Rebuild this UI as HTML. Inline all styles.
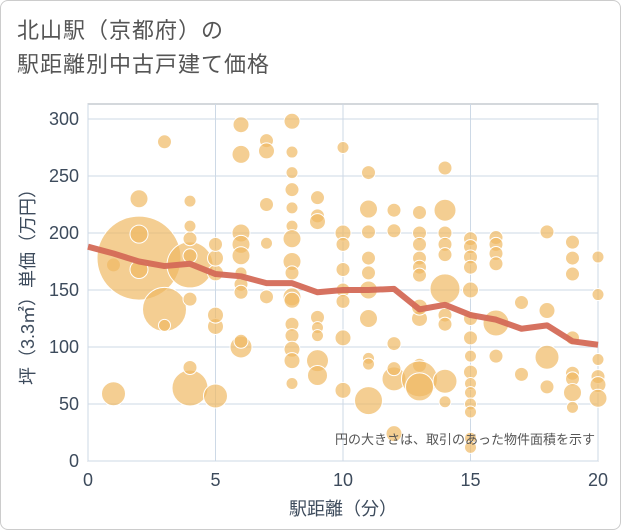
<!DOCTYPE html>
<html><head><meta charset="utf-8"><style>
body{margin:0;background:#fff;}
#wrap{position:relative;width:619px;height:528px;border:1px solid #ccc;border-radius:8px;background:#fff;font-family:"Liberation Sans","Noto Sans CJK JP",sans-serif;overflow:hidden}
#title{position:absolute;left:16px;top:13px;font-size:22px;line-height:34px;color:#555;letter-spacing:1px}
svg{position:absolute;left:0;top:0}
</style></head><body>
<div id="wrap">
<div id="title">北山駅（京都府）の<br>駅距離別中古戸建て価格</div>
<svg id="chart" width="621" height="530"></svg>
</div>
<script>
const xTicks=[0,5,10,15,20];
const yTicks=[0,50,100,150,200,250,300];
const lineX=[0,1,2,3,4,5,6,7,8,9,10,11,12,13,14,15,16,17,18,19,20];
const lineY=[188,182,175,171,173,164,162,156,156,148,150,150,151,133,137,128,124,116,119,105,102];
const bubbleX=[1,1,2,2,2,2,3,3,3,4,4,4,4,4,4,4,4,5,5,5,5,5,5,6,6,6,6,6,6,6,6,6,6,7,7,7,7,7,8,8,8,8,8,8,8,8,8,8,8,8,8,8,8,8,9,9,9,9,9,9,9,9,10,10,10,10,10,10,10,10,11,11,11,11,11,11,11,11,11,11,12,12,12,12,12,12,13,13,13,13,13,13,13,13,13,13,13,14,14,14,14,14,14,14,14,14,14,15,15,15,15,15,15,15,15,15,15,15,15,15,15,15,16,16,16,16,16,16,17,17,18,18,18,18,19,19,19,19,19,19,19,19,20,20,20,20,20,20];
const bubbleY=[59,172,178,230,199,168,280,133,119,172,64,82,142,180,195,206,228,57,118,128,165,178,190,295,269,200,190,180,155,148,100,105,165,281,272,225,191,144,298,271,253,238,222,206,195,175,165,144,141,120,110,98,88,68,231,215,210,126,117,110,88,75,275,200,190,168,150,140,108,62,253,221,201,178,165,150,125,90,85,53,220,202,103,72,81,24,218,200,190,178,170,163,125,135,84,72,65,257,220,200,190,181,151,128,120,70,52,195,188,179,170,150,125,108,92,78,68,60,50,43,20,12,196,190,182,173,121,92,139,76,201,132,91,65,192,178,164,108,77,72,60,47,179,146,89,74,67,55];
const bubbleR=[12,7,42,9,9,9,7,22,6,23,18,7,7,7,7,6,6,12,8,8,8,8,7,8,9,9,9,9,7,7,11,7,6,7,8,7,6,7,8,6,6,7,6,6,9,9,7,9,8,7,7,8,8,6,7,7,8,7,6,6,11,10,6,8,7,7,7,7,8,8,7,9,7,7,7,9,9,6,6,14,7,7,7,12,7,8,7,7,7,7,7,7,8,8,7,18,14,7,11,7,7,7,15,7,7,12,6,7,7,7,7,8,7,7,6,7,6,6,6,6,6,6,7,7,7,7,13,7,7,7,7,8,12,7,7,7,7,7,7,7,9,6,6,6,6,7,8,9];
const NS='http://www.w3.org/2000/svg';
const svg=document.getElementById('chart');
const L=87,R=597,T=103,B=460;
const xs=v=>L+(v-0)/20*(R-L);
const ys=v=>460-v*(460-118)/300;
function mk(t,a){const e=document.createElementNS(NS,t);for(const k in a)e.setAttribute(k,a[k]);svg.appendChild(e);return e;}
const bg=mk('rect',{x:L,y:T,width:R-L,height:B-T,fill:'#fff',stroke:'#aab0b8','stroke-width':1});


yTicks.forEach(v=>{const g=mk('line',{x1:L,x2:R,y1:ys(v),y2:ys(v),stroke:'#cdd9e6','stroke-width':1});


const t=mk('text',{x:L-9,y:ys(v)+6,'text-anchor':'end','font-size':18,fill:'#3d4b5c'});t.textContent=v;

});
xTicks.forEach(v=>{const g=mk('line',{x1:xs(v),x2:xs(v),y1:T,y2:B,stroke:'#cdd9e6','stroke-width':1});


const t=mk('text',{x:xs(v),y:B+25,'text-anchor':'middle','font-size':18,fill:'#3d4b5c'});t.textContent=v;

});
bubbleX.forEach((x,i)=>{const c=mk('circle',{cx:xs(x),cy:ys(bubbleY[i]),r:bubbleR[i],fill:'rgba(240,185,100,0.7)',stroke:'#fff','stroke-width':1});

});
const p=mk('polyline',{points:lineX.map((x,i)=>xs(x)+','+ys(lineY[i])).join(' '),fill:'none',stroke:'#d46a57','stroke-width':6,'stroke-linejoin':'round','stroke-opacity':0.95});


const note=mk('text',{x:R-3,y:443,'text-anchor':'end','font-size':13,fill:'#555'});note.textContent='円の大きさは、取引のあった物件面積を示す';


const xt=mk('text',{x:(L+R)/2,y:514,'text-anchor':'middle','font-size':18,fill:'#3d4b5c'});xt.textContent='駅距離（分）';


const yt=mk('text',{x:0,y:0,'text-anchor':'middle','font-size':18,fill:'#3d4b5c',transform:'translate(33,'+((T+B)/2)+') rotate(-90)'});yt.textContent='坪（3.3㎡）単価（万円）';


</script>
</body></html>
